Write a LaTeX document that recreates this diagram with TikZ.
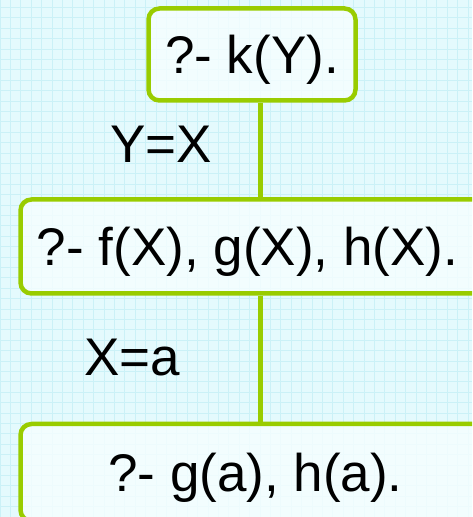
\documentclass[tikz,border=0pt]{standalone}
\usepackage{fontspec}
\setmainfont{Liberation Sans}

\definecolor{treegreen}{HTML}{99CC00}
\definecolor{paper}{HTML}{E4FAFD}
\definecolor{gridline}{HTML}{CBF1F7}
\definecolor{boxfill}{HTML}{F6FEFF}

\tikzset{
  goal/.style={draw=treegreen, line width=4.5pt, rounded corners=11pt,
    fill=boxfill, fill opacity=0.8, text opacity=1, inner sep=0pt,
    font=\fontsize{53}{60}\selectfont, text height=38pt, text depth=0pt},
  link/.style={treegreen, line width=4.5pt},
  subst/.style={anchor=base, font=\fontsize{53}{60}\selectfont}
}

\begin{document}
\begin{tikzpicture}[x=1pt, y=1pt]

  %% ---- Paper ----
  \useasboundingbox (0,0) rectangle (472,517);
  \clip (0,0) rectangle (472,517);
  \fill[paper] (0,0) rectangle (472,517);
  \draw[gridline, line width=0.9pt] (0,0) grid[step=10.4pt] (472,517);

  %% ---- Goals ----
  \node[goal, minimum width=207, minimum height=92]  (kY)  at (252,462.5) {?- k(Y).};
  \node[goal, minimum width=490, minimum height=94]  (fgh) at (265.5,270.5)
    {?- f(X), g(X), h(X).\hspace*{36pt}};
  \node[goal, minimum width=470, minimum height=97]  (gh)  at (255.5,44.5) {?- g(a), h(a).};

  %% ---- Resolution steps ----
  \coordinate (spine) at (260.5,0);
  \draw[link] (kY.south -| spine) -- (fgh.north -| spine);
  \draw[link] (fgh.south -| spine) -- (gh.north -| spine);

  %% Substitutions
  \node[subst] (sub1) at (161,354) {Y=X};
  \node[subst] (sub2) at (132,141) {X=a};

\end{tikzpicture}
\end{document}
